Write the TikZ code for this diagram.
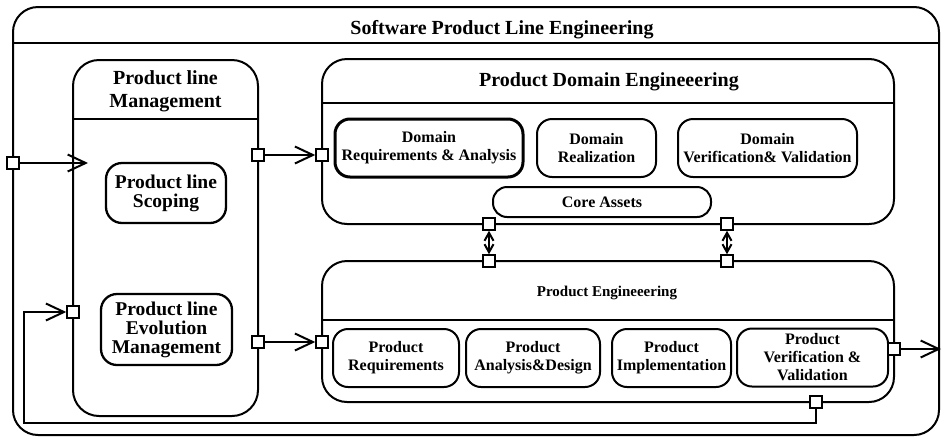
\documentclass[tikz,border=0pt]{standalone}
\usepackage{fontspec}
\setmainfont{Liberation Serif}
\usetikzlibrary{arrows.meta}
\tikzset{
  container/.style={draw, line width=2pt, rounded corners=25pt, inner sep=0pt},
  item/.style={draw, line width=2pt, rounded corners=13pt, inner sep=0pt, align=center,
    font=\fontsize{16}{18}\selectfont\bfseries},
  bigitem/.style={item, line width=2.3pt, font=\fontsize{19.5}{19}\selectfont\bfseries},
  heading/.style={inner sep=0pt, align=center, font=\fontsize{20}{23}\selectfont\bfseries},
  subheading/.style={inner sep=0pt, align=center, font=\fontsize{15}{17}\selectfont\bfseries},
  port/.style={draw, fill=white, line width=1.5pt, minimum size=12pt, inner sep=0pt},
  barb/.tip={Straight Barb[length=18pt,width=17pt,line width=2pt]},
  smallbarb/.tip={Straight Barb[length=8pt,width=9pt,line width=2pt]},
  flow/.style={line width=2pt, -barb},
  link/.style={line width=2pt, smallbarb-smallbarb},
  rule/.style={line width=2pt}
}
\begin{document}
\begin{tikzpicture}[x=1pt,y=-1pt]
\useasboundingbox (0,0) rectangle (942,437);

% ---- containers ----
\node[container, minimum width=926pt, minimum height=428pt] (spl) at (476,221) {};
\node[heading, anchor=base] (splT) at (502,34) {Software Product Line Engineering};
\coordinate (splSep) at (0,43);
\draw[rule, line width=2.4pt] (spl.west |- splSep) -- (spl.east |- splSep);

\node[container, rounded corners=26pt, minimum width=185pt, minimum height=356pt] (plm) at (165.5,238) {};
\node[heading] (plmT) at (165.5,91) {Product line\\Management};
\coordinate (plmSep) at (0,119);
\draw[rule] (plm.west |- plmSep) -- (plm.east |- plmSep);

\node[container, minimum width=572pt, minimum height=165pt] (pde) at (608,141.5) {};
\node[heading, anchor=base] (pdeT) at (609,86) {Product Domain Engineeering};
\coordinate (pdeSep) at (0,103);
\draw[rule] (pde.west |- pdeSep) -- (pde.east |- pdeSep);

\node[container, minimum width=572pt, minimum height=141pt] (pe) at (608,331.5) {};
\node[subheading, anchor=base] (peT) at (607,296) {Product Engineeering};
\coordinate (peSep) at (0,320);
\draw[rule] (pe.west |- peSep) -- (pe.east |- peSep);

% ---- product line management ----
\node[bigitem, rounded corners=16pt, minimum width=120pt, minimum height=60pt] (scope) at (166,193) {Product line\\Scoping};
\node[bigitem, rounded corners=16pt, minimum width=131pt, minimum height=71pt] (evol) at (166.5,329.5) {Product line\\Evolution\\Management};

% ---- domain engineering ----
\node[item, line width=3pt, rounded corners=15pt, minimum width=188pt, minimum height=58pt] (dra) at (429,148) {Domain\\Requirements \& Analysis};
\node[item, rounded corners=15pt, minimum width=119pt, minimum height=58pt] (drl) at (596.5,148) {Domain\\Realization};
\node[item, rounded corners=15pt, minimum width=179pt, minimum height=58pt] (dvv) at (767.5,148) {Domain\\Verification\& Validation};
\node[item, rounded corners=14pt, minimum width=218pt, minimum height=30pt] (core) at (602,202) {Core Assets};

% ---- product engineering ----
\node[item, rounded corners=15pt, minimum width=126pt, minimum height=58pt] (preq) at (396,358) {Product\\Requirements};
\node[item, rounded corners=15pt, minimum width=134pt, minimum height=58pt] (pad) at (533,358) {Product\\Analysis\&Design};
\node[item, rounded corners=15pt, minimum width=119pt, minimum height=58pt] (pimp) at (671.5,358) {Product\\Implementation};
\node[item, rounded corners=15pt, minimum width=151pt, minimum height=58pt] (pvv) at (812.5,357.5) {Product\\Verification \&\\Validation};

% ---- ports ----
\node[port] (pin) at (13,163) {};
\node[port] (plmA) at (258,155) {};
\node[port] (plmB) at (258,342) {};
\node[port] (plmFb) at (73,312) {};
\node[port] (pdeIn) at (322,155) {};
\node[port] (peIn) at (322,342) {};
\node[port] (pdeB1) at (489,224) {};
\node[port] (pdeB2) at (727,224) {};
\node[port] (peT1) at (489,261) {};
\node[port] (peT2) at (727,261) {};
\node[port] (peOut) at (894,349) {};
\node[port] (peBot) at (816,402) {};

% ---- connectors ----
\coordinate (inEnd) at (88,163);
\coordinate (outEnd) at (941,349);
\coordinate (fb1) at (816,423);
\coordinate (fb2) at (24,423);
\coordinate (fb3) at (24,312);

\draw[flow] (pin) -- (inEnd);
\draw[flow] (plmA) -- (pdeIn);
\draw[flow] (plmB) -- (peIn);
\draw[flow] (peOut) -- (outEnd);
\draw[flow] (peBot) -- (fb1) -- (fb2) -- (fb3) -- (plmFb);
\draw[link] (pdeB1) -- (peT1);
\draw[link] (pdeB2) -- (peT2);
\end{tikzpicture}
\end{document}
